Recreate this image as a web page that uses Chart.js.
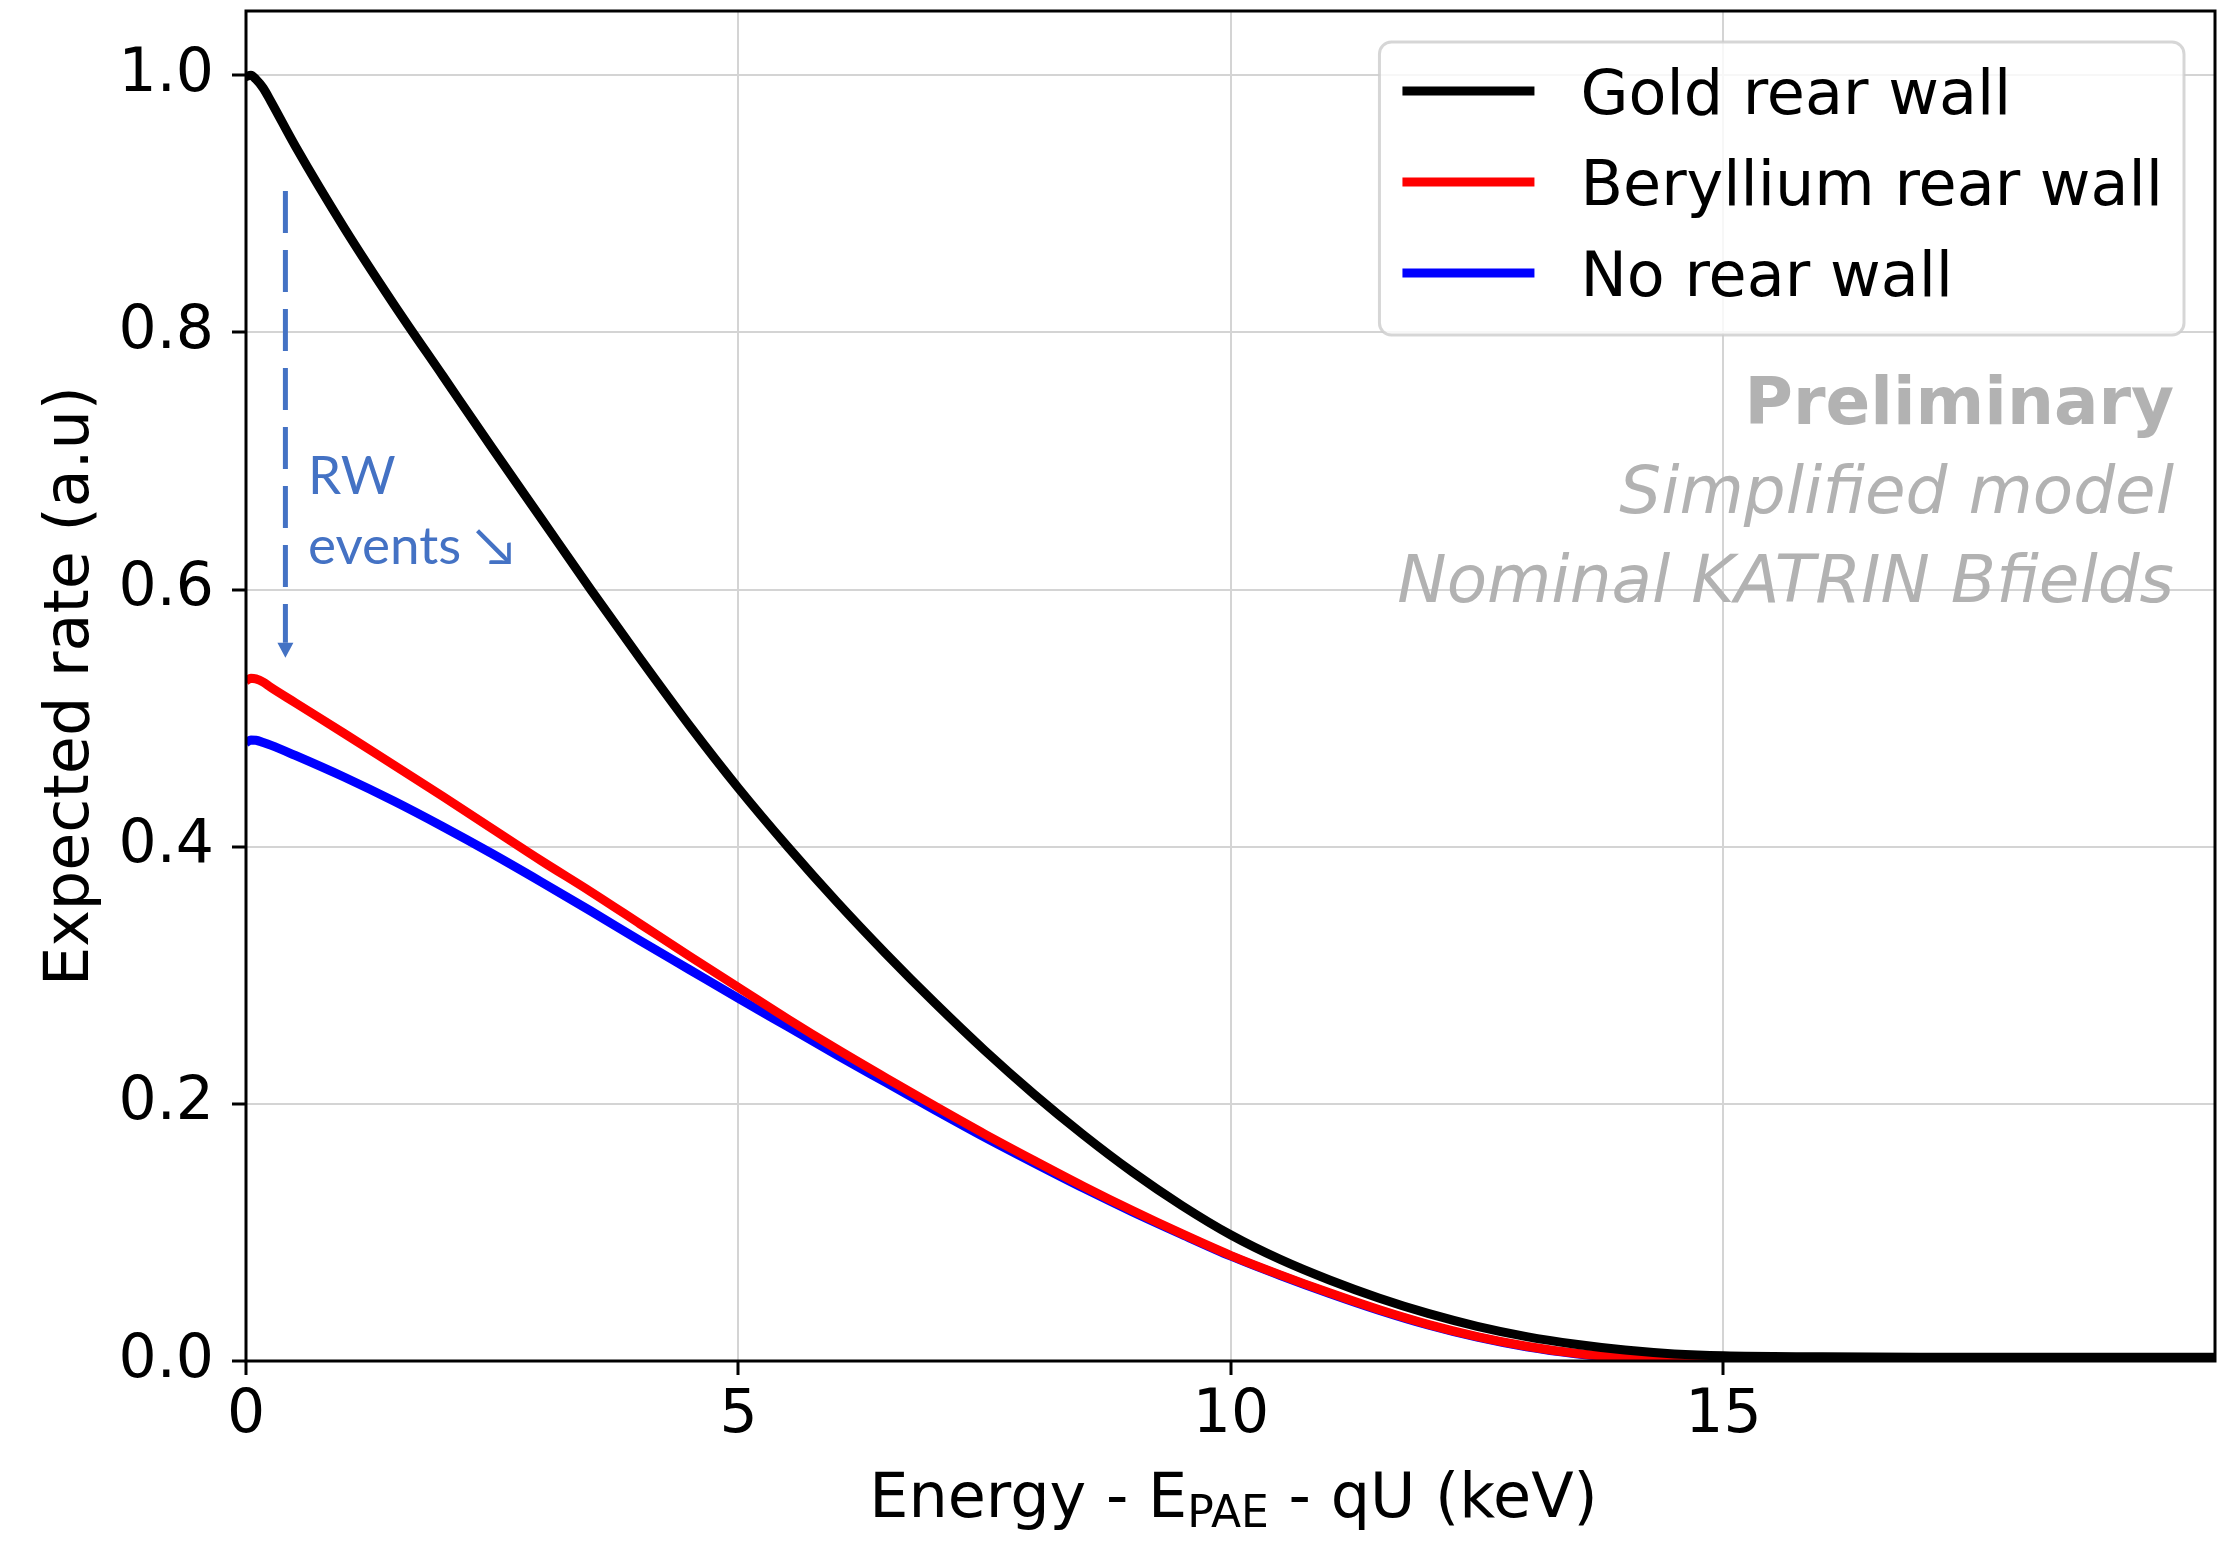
<!DOCTYPE html>
<html>
<head>
<meta charset="utf-8">
<script src="https://cdn.jsdelivr.net/npm/chart.js@4.4.1/dist/chart.umd.min.js"></script>
<style>
  html, body { margin: 0; padding: 0; background: #ffffff; }
  canvas { display: block; }
</style>
</head>
<body>
<canvas id="rateChart" width="2229" height="1541"></canvas>
<script>
// Energy above E_PAE + qU, in keV
const energy = [0, 0.05, 0.1, 0.175, 0.25,
  0.5, 1, 1.5, 2, 2.5, 3, 3.5, 4, 4.5, 5,
  5.5, 6, 6.5, 7, 7.5, 8, 8.5, 9, 9.5, 10,
  10.5, 11, 11.5, 12, 12.5, 13, 13.5, 14, 14.5, 15,
  16, 17, 18, 19, 20];

// Expected rate (arbitrary units) for each rear-wall configuration
const goldRate = [0.999, 1.000, 0.997, 0.990, 0.980,
  0.945, 0.881, 0.822, 0.766, 0.710, 0.655, 0.600, 0.5465, 0.4945, 0.4455,
  0.400, 0.357, 0.3165, 0.278, 0.2415, 0.2075, 0.176, 0.147, 0.121, 0.098,
  0.079, 0.063, 0.049, 0.037, 0.027, 0.019, 0.013, 0.0085, 0.0055, 0.004,
  0.0033, 0.003, 0.003, 0.003, 0.003];

const berylliumRate = [0.529, 0.531, 0.5305, 0.528, 0.524,
  0.512, 0.488, 0.4635, 0.439, 0.414, 0.389, 0.365, 0.340, 0.315, 0.2905,
  0.266, 0.2425, 0.220, 0.198, 0.1765, 0.156, 0.136, 0.117, 0.099, 0.082,
  0.067, 0.053, 0.040, 0.0285, 0.019, 0.0115, 0.006, 0.0025, 0.0005, 0,
  0, 0, 0, 0, 0];

const noWallRate = [0.481, 0.483, 0.4828, 0.481, 0.479,
  0.471, 0.454, 0.4355, 0.4155, 0.3945, 0.3725, 0.350, 0.327, 0.3045, 0.282,
  0.260, 0.238, 0.2165, 0.195, 0.174, 0.154, 0.1345, 0.116, 0.0985, 0.0815,
  0.0665, 0.0525, 0.0395, 0.028, 0.0185, 0.011, 0.0057, 0.0023, 0.0004, 0,
  0, 0, 0, 0, 0];

const seriesLabels = ['Gold rear wall', 'Beryllium rear wall', 'No rear wall'];
const seriesColors = ['#000000', '#ff0000', '#0000ff'];

const xTickValues = [0, 5, 10, 15];
const yTickValues = [0, 0.2, 0.4, 0.6, 0.8, 1.0];

const noteLines = ['Preliminary', 'Simplified model', 'Nominal KATRIN Bfields'];
const rwLines = ['RW', 'events \u2198'];

// Rear-wall arrow: from (x, yFrom) down to (x, yTo), in data units
const rwArrow = { x: 0.4, yFrom: 0.91, yTo: 0.547 };
const rwText = { x: 0.63, y: 0.674 };

const FONT = 'DejaVu Sans';
const NOTE_BLUE = '#4472c4';
const NOTE_GREY = '#b2b2b2';
const LINE_W = 9;

const toPoints = (vals) => energy.map((e, i) => ({ x: e, y: vals[i] }));
const seriesValues = [goldRate, berylliumRate, noWallRate];

const datasets = seriesLabels.map((label, i) => ({
  label,
  data: toPoints(seriesValues[i]),
  borderColor: seriesColors[i],
  backgroundColor: seriesColors[i],
  borderWidth: LINE_W,
  pointRadius: 0,
  fill: false,
  cubicInterpolationMode: 'monotone',
  borderJoinStyle: 'round',
  clip: 0
}));

const overlay = {
  id: 'overlay',
  afterDatasetsDraw(chart) {
    const { ctx, chartArea: a, scales: { x, y } } = chart;
    ctx.save();

    // axes frame
    ctx.strokeStyle = '#000';
    ctx.lineWidth = 3;
    ctx.strokeRect(a.left, a.top, a.right - a.left, a.bottom - a.top);

    // dashed rear-wall arrow
    const ax = x.getPixelForValue(rwArrow.x);
    const yA = y.getPixelForValue(rwArrow.yFrom);
    const yB = y.getPixelForValue(rwArrow.yTo);
    const head = 15;
    ctx.strokeStyle = NOTE_BLUE;
    ctx.lineWidth = 5;
    ctx.setLineDash([42, 17]);
    ctx.beginPath();
    ctx.moveTo(ax, yA);
    ctx.lineTo(ax, yB - head);
    ctx.stroke();
    ctx.setLineDash([]);
    ctx.fillStyle = NOTE_BLUE;
    ctx.beginPath();
    ctx.moveTo(ax - 8, yB - head);
    ctx.lineTo(ax + 8, yB - head);
    ctx.lineTo(ax, yB);
    ctx.closePath();
    ctx.fill();

    // rear-wall label
    ctx.font = '53px Lato, "DejaVu Sans"';
    ctx.textAlign = 'left';
    ctx.textBaseline = 'alphabetic';
    const tx = x.getPixelForValue(rwText.x);
    const ty = y.getPixelForValue(rwText.y);
    ctx.fillText(rwLines[0], tx, ty);
    ctx.fillText(rwLines[1], tx, ty + 70);

    // legend
    ctx.font = `62px "${FONT}"`;
    const textW = Math.max(...seriesLabels.map(s => ctx.measureText(s).width));
    const boxW = 201 + textW + 21;
    const boxH = 293;
    const boxR = a.right - 31;
    const boxL = boxR - boxW;
    const boxT = a.top + 31;
    ctx.beginPath();
    ctx.roundRect(boxL, boxT, boxW, boxH, 12);
    ctx.fillStyle = 'rgba(255,255,255,0.8)';
    ctx.fill();
    ctx.strokeStyle = 'rgba(204,204,204,0.8)';
    ctx.lineWidth = 3;
    ctx.stroke();
    chart.data.datasets.forEach((ds, i) => {
      const cy = boxT + 49 + i * 91;
      ctx.strokeStyle = ds.borderColor;
      ctx.lineWidth = LINE_W;
      ctx.lineCap = 'butt';
      ctx.beginPath();
      ctx.moveTo(boxL + 23, cy);
      ctx.lineTo(boxL + 155, cy);
      ctx.stroke();
      ctx.fillStyle = '#000';
      ctx.textAlign = 'left';
      ctx.textBaseline = 'alphabetic';
      ctx.fillText(ds.label, boxL + 201, cy + 23);
    });

    // status notes
    ctx.fillStyle = NOTE_GREY;
    ctx.textAlign = 'right';
    ctx.textBaseline = 'alphabetic';
    const nx = a.right - 41;
    ctx.font = `bold 66px "${FONT}"`;
    ctx.fillText(noteLines[0], nx, a.top + 413);
    ctx.font = `oblique 66px "${FONT}"`;
    ctx.fillText(noteLines[1], nx, a.top + 502);
    ctx.fillText(noteLines[2], nx, a.top + 591);

    ctx.restore();
  },
  afterDraw(chart) {
    const { ctx, chartArea: a } = chart;
    ctx.save();
    ctx.fillStyle = '#000';
    ctx.textBaseline = 'alphabetic';

    // x title with subscript
    const big = `62px "${FONT}"`;
    const small = `44px "${FONT}"`;
    const parts = [
      { t: 'Energy - E', f: big, dy: 0 },
      { t: 'PAE', f: small, dy: 10 },
      { t: ' - qU (keV)', f: big, dy: 0 }
    ];
    let total = 0;
    parts.forEach(p => { ctx.font = p.f; p.w = ctx.measureText(p.t).width; total += p.w; });
    let px = (a.left + a.right) / 2 - total / 2 + 3;
    const base = a.bottom + 156;
    ctx.textAlign = 'left';
    parts.forEach(p => { ctx.font = p.f; ctx.fillText(p.t, px, base + p.dy); px += p.w; });

    // y title
    ctx.font = big;
    ctx.translate(88, (a.top + a.bottom) / 2);
    ctx.rotate(-Math.PI / 2);
    ctx.textAlign = 'center';
    ctx.fillText('Expected rate (a.u)', 0, 0);
    ctx.restore();
  }
};

new Chart(document.getElementById('rateChart'), {
  type: 'line',
  data: { datasets },
  options: {
    responsive: false,
    animation: false,
    devicePixelRatio: 1,
    layout: { padding: { top: 11, right: 14, left: 0, bottom: 0 } },
    plugins: { legend: { display: false }, tooltip: { enabled: false } },
    scales: {
      x: {
        type: 'linear',
        min: 0,
        max: 19.99,
        afterFit(scale) {
          scale.height = 180;
          scale.paddingLeft = 0;
          scale.paddingRight = 0;
        },
        afterBuildTicks(scale) { scale.ticks = xTickValues.map(v => ({ value: v })); },
        ticks: {
          font: { family: FONT, size: 60 },
          color: '#000',
          padding: 5,
          maxRotation: 0,
          callback: (v) => String(v)
        },
        grid: { color: '#d4d4d4', lineWidth: 2, tickColor: '#000', tickWidth: 3, tickLength: 14 },
        border: { display: false }
      },
      y: {
        type: 'linear',
        min: 0,
        max: 1.05,
        afterFit(scale) {
          scale.width = 246;
          scale.paddingTop = 0;
          scale.paddingBottom = 0;
        },
        afterBuildTicks(scale) { scale.ticks = yTickValues.map(v => ({ value: v })); },
        ticks: {
          font: { family: FONT, size: 60 },
          color: '#000',
          padding: 18,
          callback: (v) => Number(v).toFixed(1)
        },
        grid: { color: '#d4d4d4', lineWidth: 2, tickColor: '#000', tickWidth: 3, tickLength: 14 },
        border: { display: false }
      }
    }
  },
  plugins: [overlay]
});
</script>
</body>
</html>
